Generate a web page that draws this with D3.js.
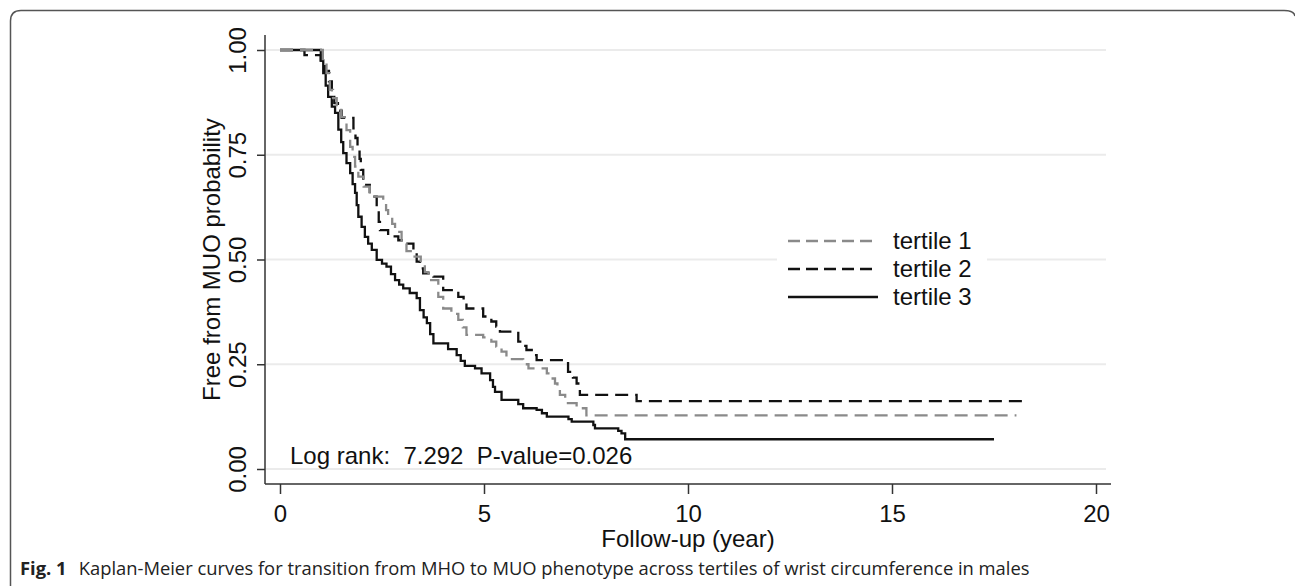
<!DOCTYPE html>
<html>
<head>
<meta charset="utf-8">
<script src="https://cdn.jsdelivr.net/npm/d3@7"></script>
<style>
  body { margin: 0; background: #fff; }
  svg { display: block; }
</style>
</head>
<body>
<div id="chart"></div>
<script>
'use strict'

// tertile 1 (gray dashed)
const t1Time = [0, 1.05, 1.14, 1.22, 1.3, 1.39, 1.5, 1.63, 1.72, 1.78, 1.84, 1.92, 2.05, 2.2, 2.53, 2.6, 2.65, 2.75, 2.82, 2.98, 3.1, 3.27, 3.45, 3.55, 3.64, 3.88, 4.0, 4.2, 4.37, 4.48, 4.57, 4.98, 5.18, 5.3, 5.43, 5.55, 5.96, 6.09, 6.54, 6.65, 6.74, 6.8, 6.86, 6.99, 7.27, 7.51, 18.05]
const t1Surv = [1, 0.97, 0.945, 0.905, 0.885, 0.865, 0.84, 0.809, 0.769, 0.745, 0.722, 0.698, 0.674, 0.65, 0.634, 0.618, 0.602, 0.585, 0.566, 0.538, 0.52, 0.507, 0.49, 0.47, 0.451, 0.411, 0.383, 0.37, 0.356, 0.338, 0.32, 0.314, 0.304, 0.292, 0.28, 0.262, 0.25, 0.24, 0.228, 0.216, 0.204, 0.19, 0.177, 0.157, 0.145, 0.128, 0.128]

// tertile 2 (black dashed)
const t2Time = [0, 0.6, 1.0, 1.1, 1.2, 1.27, 1.33, 1.42, 1.51, 1.8, 1.85, 1.9, 1.95, 1.98, 2.04, 2.2, 2.37, 2.42, 2.45, 2.65, 2.9, 3.02, 3.27, 3.35, 3.43, 3.51, 3.76, 4.0, 4.37, 4.5, 4.57, 4.98, 5.18, 5.3, 5.39, 5.84, 5.94, 6.04, 6.17, 6.29, 7.06, 7.18, 7.27, 7.35, 8.74, 18.25]
const t2Surv = [1, 0.988, 0.975, 0.95, 0.925, 0.9, 0.873, 0.855, 0.838, 0.813, 0.79, 0.769, 0.74, 0.714, 0.678, 0.65, 0.618, 0.59, 0.57, 0.555, 0.546, 0.538, 0.515, 0.495, 0.479, 0.467, 0.459, 0.427, 0.411, 0.395, 0.383, 0.364, 0.352, 0.34, 0.328, 0.304, 0.294, 0.284, 0.272, 0.26, 0.232, 0.218, 0.204, 0.177, 0.162, 0.162]

// tertile 3 (solid)
const t3Time = [0, 1.0, 1.06, 1.12, 1.18, 1.27, 1.35, 1.43, 1.5, 1.55, 1.63, 1.72, 1.78, 1.84, 1.88, 1.92, 2.0, 2.08, 2.16, 2.25, 2.37, 2.5, 2.61, 2.72, 2.82, 2.92, 3.02, 3.18, 3.35, 3.43, 3.52, 3.6, 3.68, 3.76, 4.12, 4.33, 4.43, 4.53, 4.78, 4.94, 5.15, 5.22, 5.27, 5.43, 5.84, 5.96, 6.29, 6.42, 6.54, 7.07, 7.15, 7.68, 7.72, 8.29, 8.37, 8.46, 17.5]
const t3Surv = [1, 0.975, 0.945, 0.915, 0.888, 0.865, 0.85, 0.81, 0.78, 0.754, 0.73, 0.706, 0.68, 0.659, 0.63, 0.602, 0.578, 0.554, 0.538, 0.523, 0.499, 0.49, 0.483, 0.465, 0.451, 0.44, 0.431, 0.42, 0.408, 0.379, 0.362, 0.348, 0.322, 0.3, 0.286, 0.272, 0.258, 0.246, 0.24, 0.228, 0.212, 0.196, 0.184, 0.165, 0.155, 0.145, 0.141, 0.133, 0.125, 0.119, 0.113, 0.105, 0.097, 0.091, 0.085, 0.071, 0.071]

const seriesNames = ['tertile 1', 'tertile 2', 'tertile 3']
const xTicks = [0, 5, 10, 15, 20]
const yTicks = [0, 0.25, 0.5, 0.75, 1]
const yTickLabels = ['0.00', '0.25', '0.50', '0.75', '1.00']
const statText = 'Log rank:  7.292  P-value=0.026'
const xTitle = 'Follow-up (year)'
const yTitle = 'Free from MUO probability'
const captionBold = 'Fig. 1'
const captionText = 'Kaplan-Meier curves for transition from MHO to MUO phenotype across tertiles of wrist circumference in males'

////////////////////////////////////
//////////// svg setup /////////////
////////////////////////////////////

var svgWidth = 1295
var svgHeight = 586
var font = 'Liberation Sans, Arial, sans-serif'

const svg = d3.select('#chart').append('svg')
    .attr('width', svgWidth)
    .attr('height', svgHeight)

// figure frame (rounded top corners, rest runs off the page)
svg.append('path')
    .attr('d', 'M10.5,586 L10.5,21 Q10.5,10.5 21,10.5 L1284,10.5 Q1294,10.5 1295,16')
    .attr('fill', 'none')
    .attr('stroke', '#555')
    .attr('stroke-width', 1.5)

////////////////////////////////////
//////////////scales////////////////
////////////////////////////////////

const x = d3.scaleLinear().domain([0, 20]).range([280, 1096])
const y = d3.scaleLinear().domain([0, 1]).range([469, 50])

var axisX = 265, axisY = 484

// gridlines
svg.append('g').selectAll('line')
    .data(yTicks)
    .join('line')
    .attr('x1', axisX + 1)
    .attr('x2', 1106)
    .attr('y1', d => y(d))
    .attr('y2', d => y(d))
    .attr('stroke', '#ebebeb')
    .attr('stroke-width', 2)

// y axis
const yAxis = svg.append('g')
    .attr('transform', `translate(${axisX},0)`)
    .call(d3.axisLeft(y).tickValues(yTicks).tickSize(8).tickFormat((d, i) => yTickLabels[i]))
yAxis.select('.domain').remove()
yAxis.append('line').attr('y1', 35).attr('y2', axisY).attr('stroke', '#333').attr('stroke-width', 1.5)
yAxis.selectAll('.tick line').attr('stroke', '#333').attr('stroke-width', 1.5)
yAxis.selectAll('.tick text')
    .attr('x', null).attr('dy', null)
    .attr('transform', 'translate(-19,0) rotate(-90)')
    .attr('text-anchor', 'middle')
    .attr('fill', '#111')
    .style('font-family', font)
    .style('font-size', '24px')

// x axis
const xAxis = svg.append('g')
    .attr('transform', `translate(0,${axisY})`)
    .call(d3.axisBottom(x).tickValues(xTicks).tickSize(10).tickFormat(d3.format('d')))
xAxis.select('.domain').remove()
xAxis.append('line').attr('x1', axisX).attr('x2', 1111).attr('stroke', '#333').attr('stroke-width', 1.5)
xAxis.selectAll('.tick line').attr('stroke', '#333').attr('stroke-width', 1.5)
xAxis.selectAll('.tick text')
    .attr('y', 38).attr('dy', null)
    .attr('fill', '#111')
    .style('font-family', font)
    .style('font-size', '24px')

// axis titles
svg.append('text')
    .attr('x', x(10))
    .attr('y', 547)
    .attr('text-anchor', 'middle')
    .style('font-family', font)
    .style('font-size', '24px')
    .attr('fill', '#111')
    .text(xTitle)

svg.append('text')
    .attr('transform', `translate(220,${(y(0) + y(1)) / 2}) rotate(-90)`)
    .attr('text-anchor', 'middle')
    .style('font-family', font)
    .style('font-size', '24px')
    .attr('fill', '#111')
    .text(yTitle)

////////////////////////////////////
////////////// curves //////////////
////////////////////////////////////

const series = [
    {name: seriesNames[0], time: t1Time, surv: t1Surv, color: '#8a8a8a', dash: '13,7'},
    {name: seriesNames[1], time: t2Time, surv: t2Surv, color: '#111', dash: '13,7'},
    {name: seriesNames[2], time: t3Time, surv: t3Surv, color: '#111', dash: null}
]

const line = d3.line()
    .x(d => x(d[0]))
    .y(d => y(d[1]))
    .curve(d3.curveStepAfter)

// legend box (white, cuts the 0.50 gridline)
svg.append('rect')
    .attr('x', 777).attr('y', 224)
    .attr('width', 210).attr('height', 88)
    .attr('fill', '#fff')

// draw solid first so dashed sit on top
series.slice().reverse().forEach(s => {
    svg.append('path')
        .datum(d3.zip(s.time, s.surv))
        .attr('d', line)
        .attr('fill', 'none')
        .attr('stroke', s.color)
        .attr('stroke-width', 2.3)
        .attr('stroke-dasharray', s.dash)
})

// legend
var legend = svg.append('g')
series.forEach((s, i) => {
    var ly = 241 + i * 28
    legend.append('line')
        .attr('x1', 788).attr('x2', 878)
        .attr('y1', ly).attr('y2', ly)
        .attr('stroke', s.color)
        .attr('stroke-width', 2.3)
        .attr('stroke-dasharray', s.dash ? '12,6' : null)
    legend.append('text')
        .attr('x', 893).attr('y', ly + 8)
        .style('font-family', font)
        .style('font-size', '24px')
        .attr('fill', '#111')
        .text(s.name)
})

// log rank note (keep the double spaces)
svg.append('text')
    .attr('x', 290)
    .attr('y', 464)
    .style('font-family', font)
    .style('font-size', '24px')
    .style('white-space', 'pre')
    .attr('xml:space', 'preserve')
    .attr('fill', '#111')
    .text(statText)

////////////////////////////////////
////////////// caption /////////////
////////////////////////////////////

var cap = svg.append('text')
    .attr('x', 0)
    .attr('y', 0)
    .style('font-family', 'Open Sans, sans-serif')
    .style('font-size', '18px')
    .attr('fill', '#222')
cap.append('tspan').style('font-weight', 'bold').text(captionBold)
cap.append('tspan').attr('dx', 12).text(captionText)

// squeeze to match the condensed caption face
var capW = cap.node().getBBox().width
var sx = 1010 / capW
cap.attr('transform', `translate(20,575) scale(${sx},1)`)

</script>
</body>
</html>
